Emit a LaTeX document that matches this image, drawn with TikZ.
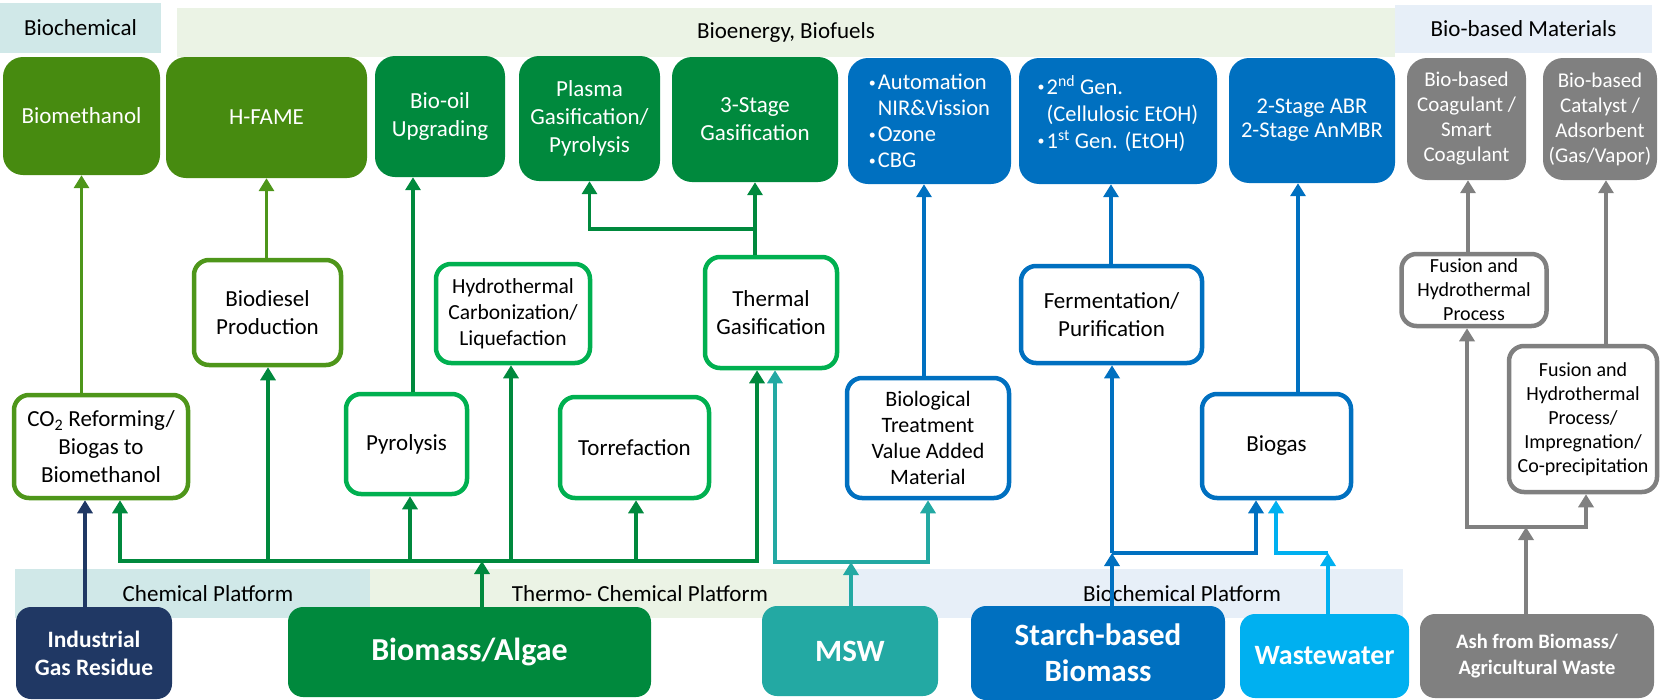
\documentclass[tikz,border=0pt]{standalone}
\usepackage{fontspec}
\setmainfont{Carlito}
\usetikzlibrary{arrows.meta}
\definecolor{cOlive}{RGB}{71,139,16}
\definecolor{cOliveL}{RGB}{78,150,26}
\definecolor{cDkG}{RGB}{0,137,61}
\definecolor{cGreen}{RGB}{0,176,80}
\definecolor{cBlue}{RGB}{0,112,192}
\definecolor{cGray}{RGB}{128,128,128}
\definecolor{cNavy}{RGB}{32,56,100}
\definecolor{cTeal}{RGB}{35,169,163}
\definecolor{cSky}{RGB}{0,176,240}
\definecolor{cBandT}{RGB}{208,232,232}
\definecolor{cBandG}{RGB}{235,243,229}
\definecolor{cBandB}{RGB}{231,239,248}
\newcommand{\bul}{\raisebox{2.5pt}{\fontsize{14}{14}\selectfont\textbullet}\kern2pt}
\tikzset{
  wh/.style 2 args={minimum width=#1pt, minimum height=#2pt},
  band/.style={inner sep=0pt, font=\fontsize{23}{28}\selectfont},
  topbox/.style={rounded corners=20pt, text=white, align=center, inner sep=2pt, font=\fontsize{23}{28}\selectfont},
  midbox/.style={draw, line width=4.5pt, rounded corners=15pt, fill=white, align=center, inner sep=2pt, font=\fontsize{23}{28}\selectfont},
  srcbox/.style={rounded corners=15pt, text=white, align=center, inner sep=2pt},
  conn/.style={line width=3.5pt, -{Triangle[width=15pt,length=13pt]}},
  link/.style={line width=3.5pt, line cap=rect},
}
\begin{document}
\begin{tikzpicture}[x=1pt, y=-1pt]
\useasboundingbox (0,0) rectangle (1660,699);
% bands
\node[band, fill=cBandT, wh={161}{50}] (bBC) at (80.5,28) {Biochemical};
\node[band, fill=cBandG, wh={1218}{49}] (bBE) at (786,32.5) {Bioenergy, Biofuels};
\node[band, fill=cBandB, wh={257}{48}] (bBM) at (1523.5,29) {Bio-based Materials};
\node[band, fill=cBandT, wh={355}{49}] (pC) at (192.5,593.5) {};
\node[band, fill=cBandG, wh={478}{49}] (pT) at (609,593.5) {};
\node[band, fill=cBandB, wh={555}{49}] (pB) at (1125.5,593.5) {};
\node[band] (lC) at (208,594) {Chemical Platform};
\node[band] (lT) at (640,594) {Thermo- Chemical Platform};
\node[band] (lB) at (1182,594) {Biochemical Platform};
% products
\node[topbox, fill=cOlive, wh={157}{118}] (bmeth) at (81.5,116) {Biomethanol};
\node[topbox, fill=cOlive, wh={201}{121}] (hfame) at (266.5,117.5) {H-FAME};
\node[topbox, fill=cDkG, wh={130}{121}] (oil) at (440,116.5) {Bio-oil\\Upgrading};
\node[topbox, fill=cDkG, wh={141}{125}] (plasma) at (589.5,118.5) {Plasma\\Gasification/\\Pyrolysis};
\node[topbox, fill=cDkG, wh={166}{125}] (stage) at (755,119.5) {3-Stage\\Gasification};
\node[topbox, fill=cBlue, wh={163}{126}, align=left, font=\fontsize{22.5}{26}\selectfont] (auto) at (929.5,121)
  {\bul Automation\\\hphantom{\bul}NIR\&Vission\\\bul Ozone\\\bul CBG};
\node[topbox, fill=cBlue, wh={198}{126}, align=left, font=\fontsize{22.5}{27}\selectfont] (gen) at (1118,121)
  {\bul 2\textsuperscript{nd} Gen.\\\hphantom{\bul}(Cellulosic EtOH)\\\bul 1\textsuperscript{st} Gen. (EtOH)\\[-9pt]\mbox{}};
\node[topbox, fill=cBlue, wh={166}{125}, font=\fontsize{22.5}{24}\selectfont] (abr) at (1312,120.5) {2-Stage ABR\\2-Stage AnMBR};
\node[topbox, fill=cGray, wh={119}{122}, font=\fontsize{21}{25}\selectfont] (coag) at (1466.5,119) {Bio-based\\Coagulant /\\Smart\\Coagulant};
\node[topbox, fill=cGray, wh={114}{122}, font=\fontsize{21}{25}\selectfont] (cata) at (1600,119) {Bio-based\\Catalyst /\\Adsorbent\\(Gas/Vapor)};
% processes
\node[midbox, draw=cOliveL, wh={174}{103}] (co2) at (101,446.5) {CO\textsubscript{2} Reforming/\\Biogas to\\Biomethanol};
\node[midbox, draw=cOliveL, wh={147}{105}] (dies) at (267.5,312.5) {Biodiesel\\Production};
\node[midbox, draw=cGreen, wh={121}{100}] (pyro) at (406.5,444) {Pyrolysis};
\node[midbox, draw=cGreen, wh={154}{99}, font=\fontsize{21.5}{26}\selectfont] (hydro) at (513,313.5) {Hydrothermal\\Carbonization/\\Liquefaction};
\node[midbox, draw=cGreen, wh={149}{101}] (torr) at (634.5,447.5) {Torrefaction};
\node[midbox, draw=cGreen, wh={132}{111}] (therm) at (771,312.5) {Thermal\\Gasification};
\node[midbox, draw=cBlue, wh={162}{120}, font=\fontsize{22}{26}\selectfont] (biol) at (928,438) {Biological\\Treatment\\Value Added\\Material};
\node[midbox, draw=cBlue, wh={181}{97}] (ferm) at (1111.5,314.5) {Fermentation/\\Purification};
\node[midbox, draw=cBlue, wh={149}{104}] (biogas) at (1276.5,446) {Biogas};
\node[midbox, draw=cGray, wh={145}{72}, font=\fontsize{20}{24}\selectfont] (fus1) at (1474,290) {Fusion and\\Hydrothermal\\Process};
\node[midbox, draw=cGray, wh={148}{146}, font=\fontsize{20}{24}\selectfont] (fus2) at (1583,419) {Fusion and\\Hydrothermal\\Process/\\Impregnation/\\Co-precipitation};
% feedstocks
\node[srcbox, fill=cNavy, wh={156}{92}, font=\bfseries\fontsize{23.5}{28}\selectfont] (igr) at (94,653) {Industrial\\Gas Residue};
\node[srcbox, fill=cDkG, wh={363}{90}, font=\bfseries\fontsize{32}{38}\selectfont] (bio) at (469.5,652) {Biomass/Algae};
\node[srcbox, fill=cTeal, wh={176}{90}, font=\bfseries\fontsize{31}{37}\selectfont] (msw) at (850,651) {MSW};
\node[srcbox, fill=cBlue, wh={254}{94}, font=\bfseries\fontsize{31}{36}\selectfont] (starch) at (1098,653) {Starch-based\\Biomass};
\node[srcbox, fill=cSky, wh={169}{84}, font=\bfseries\fontsize{28}{33}\selectfont] (ww) at (1324.5,656) {Wastewater};
\node[srcbox, fill=cGray, wh={234}{84}, font=\bfseries\fontsize{20.5}{26}\selectfont] (ash) at (1537,656) {Ash from Biomass/\\Agricultural Waste};
% feedstocks to processes
\draw[conn, cNavy] (igr.north -| 85,0) -- (co2.south -| 85,0);
\coordinate (gbus) at (482,561);
\draw[conn, cDkG] (bio.north -| gbus) -- (gbus);
\draw[link, cDkG] (gbus -| 120,0) -- (gbus -| 757,0);
\foreach \x/\n in {120/co2, 268/dies, 410/pyro, 511/hydro, 636/torr, 757/therm}
  \draw[conn, cDkG] (gbus -| \x,0) -- (\n.south -| \x,0);
\coordinate (tbus) at (851,562);
\draw[conn, cTeal] (msw.north -| tbus) -- (tbus);
\draw[link, cTeal] (tbus -| 775,0) -- (tbus -| 928,0);
\draw[conn, cTeal] (tbus -| 775,0) -- (therm.south -| 775,0);
\draw[conn, cTeal] (tbus -| 928,0) -- (biol.south -| 928,0);
\coordinate (bj) at (1112,553);
\draw[conn, cBlue] (starch.north -| bj) -- (bj);
\draw[conn, cBlue] (bj) -- (ferm.south -| bj);
\draw[conn, cBlue] (bj) -| (biogas.south -| 1256,0);
\coordinate (wj) at (1328,553);
\draw[conn, cSky] (ww.north -| wj) -- (wj);
\draw[conn, cSky] (wj) -| (biogas.south -| 1276,0);
\coordinate (aj) at (1526,527);
\draw[conn, cGray] (ash.north -| aj) -- (aj);
\draw[link, cGray] (aj -| 1467,0) -- (aj -| 1586,0);
\draw[conn, cGray] (aj -| 1467,0) -- (fus1.south -| 1467,0);
\draw[conn, cGray] (aj -| 1586,0) -- (fus2.south -| 1586,0);
% processes to products
\draw[conn, cOliveL] (co2.north -| bmeth.south) -- (bmeth.south);
\draw[conn, cOliveL] (dies.north -| hfame.south) -- (hfame.south);
\draw[conn, cDkG] (pyro.north -| 413,0) -- (oil.south -| 413,0);
\coordinate (tj) at (755,229);
\draw[link, cDkG, line cap=butt] (therm.north -| tj) -- (tj);
\draw[conn, cDkG] (tj) -- (stage.south -| tj);
\draw[conn, cDkG] (tj) -| (plasma.south);
\draw[conn, cBlue] (biol.north -| 924,0) -- (auto.south -| 924,0);
\draw[conn, cBlue] (ferm.north -| 1111,0) -- (gen.south -| 1111,0);
\draw[conn, cBlue] (biogas.north -| 1298,0) -- (abr.south -| 1298,0);
\draw[conn, cGray] (fus1.north -| 1468,0) -- (coag.south -| 1468,0);
\draw[conn, cGray] (fus2.north -| 1606,0) -- (cata.south -| 1606,0);
\end{tikzpicture}
\end{document}
